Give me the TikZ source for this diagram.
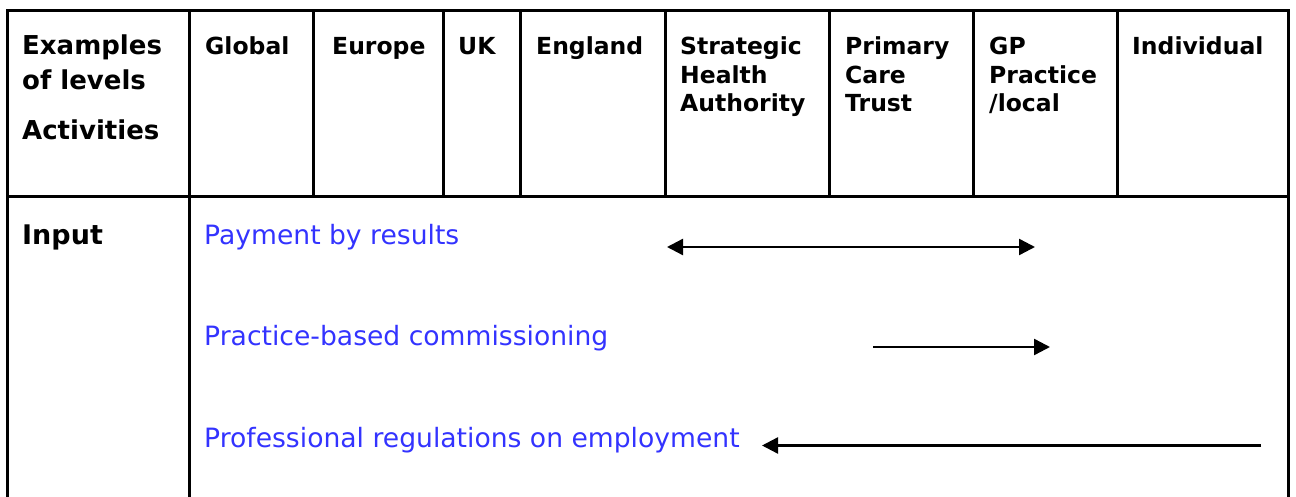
\documentclass[tikz,border=0pt]{standalone}
\usepackage{fontspec}
\setmainfont{DejaVu Sans}
\usetikzlibrary{arrows.meta}
\definecolor{txtblue}{RGB}{51,51,255}
\tikzset{
  grid/.style={line width=3pt, black},
  hdr/.style={anchor=base west, inner sep=0pt, font=\fontsize{23.5}{28}\selectfont\bfseries, text=black},
  bighdr/.style={anchor=base west, inner sep=0pt, font=\fontsize{26}{31}\selectfont\bfseries, text=black},
  rowlab/.style={anchor=base west, inner sep=0pt, font=\fontsize{27}{32}\selectfont\bfseries, text=black},
  blu/.style={anchor=base west, inner sep=0pt, font=\fontsize{26.6}{31}\selectfont, text=txtblue},
  arr/.style={line width=2.4pt, -{Triangle[length=16pt,width=16pt]}},
  darr/.style={line width=2.4pt, {Triangle[length=16pt,width=16pt]}-{Triangle[length=16pt,width=16pt]}},
}
\begin{document}
\begin{tikzpicture}[x=1pt,y=-1pt]
\clip (0,0) rectangle (1296,497);
\useasboundingbox (0,0) rectangle (1296,497);
% grid
\draw[grid] (7,500) -- (7,11) -- (1288,11) -- (1288,500);
\draw[grid] (7,197) -- (1288,197);
\draw[grid] (189,11) -- (189,500);
\foreach \xx in {313,443,520,665,829,973,1117} {
  \draw[grid] (\xx,11) -- (\xx,197);
}
% header texts
\node[bighdr] (ex1) at (22,55) {Examples};
\node[bighdr] (ex2) at (22,90) {of levels};
\node[bighdr] (ex3) at (22,140) {Activities};
\node[hdr] (glob) at (205,55) {Global};
\node[hdr] (eur) at (332,55) {Europe};
\node[hdr] (uk) at (458,55) {UK};
\node[hdr] (eng) at (536,55) {England};
\node[hdr] (sha1) at (680,55) {Strategic};
\node[hdr] (sha2) at (680,83.5) {Health};
\node[hdr] (sha3) at (680,112) {Authority};
\node[hdr] (pct1) at (845,55) {Primary};
\node[hdr] (pct2) at (845,83.5) {Care};
\node[hdr] (pct3) at (845,112) {Trust};
\node[hdr] (gp1) at (989,55) {GP};
\node[hdr] (gp2) at (989,83.5) {Practice};
\node[hdr] (gp3) at (989,112) {/local};
\node[hdr] (ind) at (1132,55) {Individual};
% row
\node[rowlab] (inp) at (22,244) {Input};
\node[blu] (pbr) at (204,244) {Payment by results};
\node[blu] (pbc) at (204,345.5) {Practice-based commissioning};
\node[blu] (pro) at (204,447) {Professional regulations on employment};
% arrows
\coordinate (a1l) at (667,247);
\coordinate (a1r) at (1035,247);
\coordinate (a2l) at (873,347);
\coordinate (a2r) at (1050,347);
\coordinate (a3l) at (762,445.5);
\coordinate (a3r) at (1261,445.5);
\draw[darr] (a1l) -- (a1r);
\draw[arr] (a2l) -- (a2r);
\draw[arr] (a3r) -- (a3l);
\end{tikzpicture}
\end{document}
